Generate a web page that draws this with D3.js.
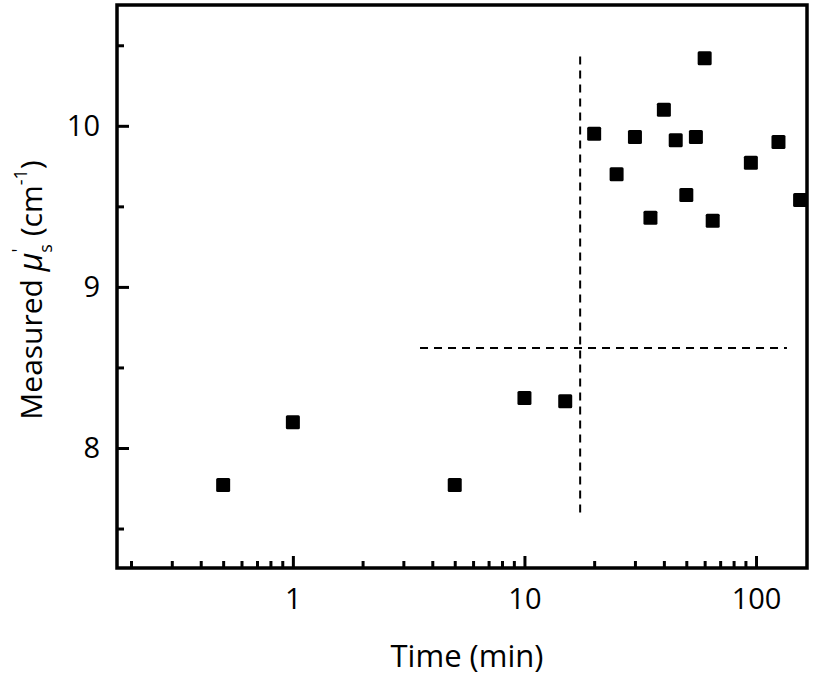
<!DOCTYPE html>
<html><head><meta charset="utf-8">
<script src="https://cdn.jsdelivr.net/npm/d3@7"></script>
<style>body{margin:0;background:#fff}svg{display:block}text{font-family:"Open Sans",sans-serif;fill:#000}</style>
</head><body><svg id="c" width="814" height="675"></svg>
<script>
const times = [0.5, 1, 5, 10, 15, 20, 25, 30, 35, 40, 45, 50, 55, 60, 65, 95, 125, 155];
const musValues = [7.77, 8.16, 7.77, 8.31, 8.29, 9.95, 9.70, 9.93, 9.43, 10.10, 9.91, 9.57, 9.93, 10.42, 9.41, 9.77, 9.90, 9.54];
const xTickValues = [1, 10, 100];
const yTickValues = [8, 9, 10];
const yMinorTicks = [7.5, 8.5, 9.5, 10.5];
const vDivider = {x: 17.4, y0: 7.57, y1: 10.43};
const hDivider = {y: 8.62, x0: 3.54, x1: 136};

const svg = d3.select("#c");
const L = 117, R = 807, T = 5, B = 568;
const x = d3.scaleLog().domain([0.174, 166]).range([L, R]);
const y = d3.scaleLinear().domain([7.255, 10.75]).range([B, T]);

const xMinor = [];
for (let d = 0.1; d <= 100; d *= 10) for (let k = 2; k <= 9; k++) { const v = +(d * k).toPrecision(3); if (v >= 0.174 && v <= 166) xMinor.push(v); }

const g = svg.append("g");
g.append("line").attr("x1", x(vDivider.x)).attr("x2", x(vDivider.x)).attr("y1", y(vDivider.y1)).attr("y2", y(vDivider.y0))
  .attr("stroke", "#000").attr("stroke-width", 2).attr("stroke-dasharray", "8,6");
g.append("line").attr("x1", x(hDivider.x0)).attr("x2", x(hDivider.x1)).attr("y1", y(hDivider.y)).attr("y2", y(hDivider.y))
  .attr("stroke", "#000").attr("stroke-width", 2).attr("stroke-dasharray", "8,6");

const s = 14;
g.selectAll("rect.pt").data(times.map((t, i) => [t, musValues[i]])).enter().append("rect")
  .attr("class", "pt").attr("x", d => x(d[0]) - s / 2).attr("y", d => y(d[1]) - s / 2)
  .attr("width", s).attr("height", s).attr("rx", 1.5).attr("fill", "#000");

const xAxis = d3.axisBottom(x).tickValues(xTickValues).tickSize(-12).tickPadding(20).tickFormat(d3.format("d"));
const xAx = svg.append("g").attr("transform", `translate(0,${B})`).call(xAxis);
xAx.select(".domain").remove();
xAx.selectAll("line").attr("stroke-width", 3);
xAx.selectAll("text").attr("font-size", 29);
const xMin = svg.append("g").attr("transform", `translate(0,${B})`).call(d3.axisBottom(x).tickValues(xMinor).tickSize(-7).tickFormat(""));
xMin.select(".domain").remove();
xMin.selectAll("line").attr("stroke-width", 3);

const yAxis = d3.axisLeft(y).tickValues(yTickValues).tickSize(-12).tickPadding(17).tickFormat(d3.format("d"));
const yAx = svg.append("g").attr("transform", `translate(${L},0)`).call(yAxis);
yAx.select(".domain").remove();
yAx.selectAll("line").attr("stroke-width", 3);
yAx.selectAll("text").attr("font-size", 29);
const yMin = svg.append("g").attr("transform", `translate(${L},0)`).call(d3.axisLeft(y).tickValues(yMinorTicks).tickSize(-7).tickFormat(""));
yMin.select(".domain").remove();
yMin.selectAll("line").attr("stroke-width", 3);

svg.append("rect").attr("x", L).attr("y", T).attr("width", R - L).attr("height", B - T)
  .attr("fill", "none").attr("stroke", "#000").attr("stroke-width", 3.5);

svg.append("text").attr("x", 467).attr("y", 667).attr("text-anchor", "middle").attr("font-size", 31).text("Time (min)");

const yl = svg.append("text").attr("transform", "translate(42,290) rotate(-90)").attr("text-anchor", "middle").attr("font-size", 30);
yl.append("tspan").text("Measured ");
yl.append("tspan").attr("font-style", "italic").attr("font-size", 32).text("\u03bc");
yl.append("tspan").attr("font-size", 18).attr("dy", -17).text("'");
yl.append("tspan").attr("font-size", 18).attr("dx", -4).attr("dy", 27).text("s");
yl.append("tspan").attr("dy", -10).text(" (cm");
yl.append("tspan").attr("font-size", 18).attr("dy", -15).text("-1");
yl.append("tspan").attr("dy", 15).text(")");
</script></body></html>
